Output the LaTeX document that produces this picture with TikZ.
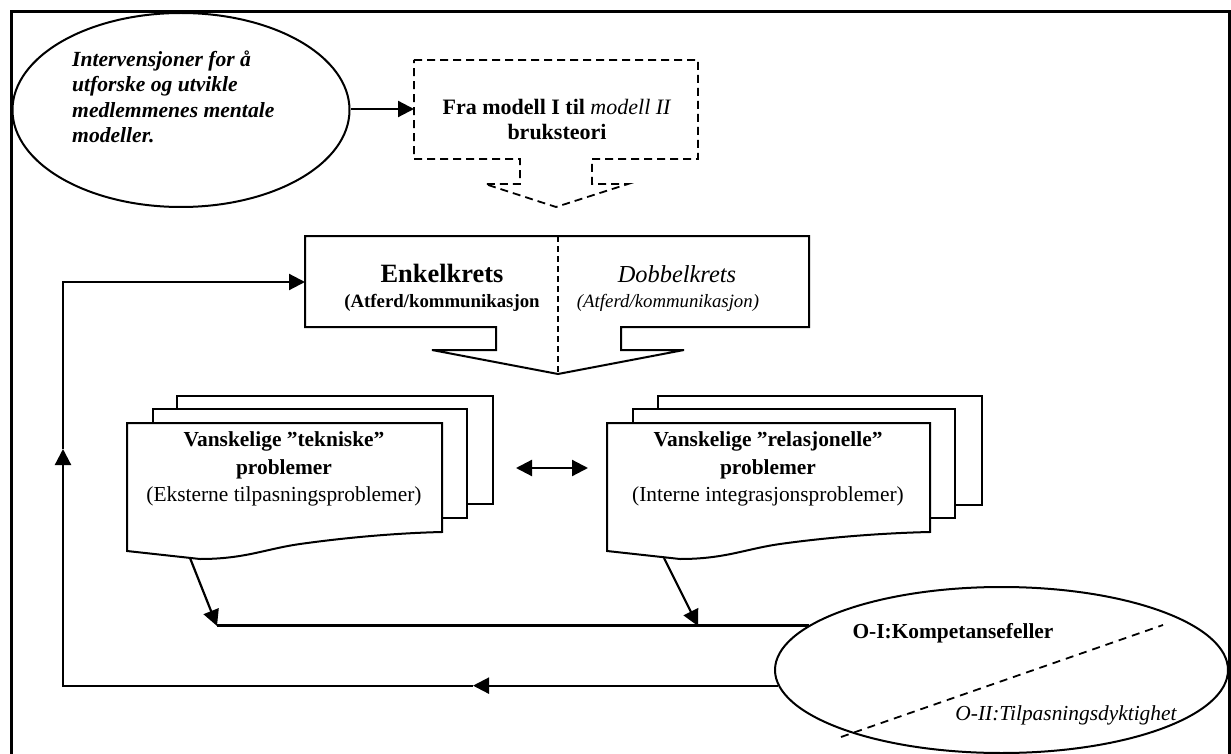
\documentclass[tikz,border=0pt]{standalone}
\usepackage{fontspec}
\setmainfont{Liberation Serif}
\usetikzlibrary{shapes.geometric,arrows.meta}
\newcommand{\myfs}[2]{\fontsize{#1pt}{#2pt}\selectfont}
\begin{document}
\begin{tikzpicture}[x=1pt,y=-1pt,
  >={Triangle[length=16pt,width=16pt]},
  ln/.style={line width=2.2pt},
  arr/.style={line width=2.2pt,->},
  dbl/.style={line width=2.2pt,<->},
  page/.style={line width=2pt,fill=white},
  dashbox/.style={line width=1.8pt,dash pattern=on 8pt off 5pt},
  divider/.style={line width=1.6pt,dash pattern=on 6pt off 4pt},
  oval/.style={ellipse,draw,line width=2pt,inner sep=0pt},
  lbl/.style={inner sep=0pt,align=center}
]
\useasboundingbox (0,0) rectangle (1231,754);
\fill[white] (0,0) rectangle (1231,754);
% frame
\draw[line width=3pt] (11,780) -- (11,12) -- (1229,12) -- (1229,780);

% top-left ellipse
\node[oval,minimum width=337pt,minimum height=194pt] (ell1) at (181,110) {};
\node[lbl,align=left,anchor=west,font={\myfs{21.6}{25.5}\bfseries\itshape}] (ell1t) at (72,97)
  {Intervensjoner for å\\utforske og utvikle\\medlemmenes mentale\\modeller.};

% dashed callout
\draw[dashbox] (414,60) -- (698,60) -- (698,159) -- (592,159) -- (592,184) -- (628,184)
  -- (556,207) -- (485,184) -- (520,184) -- (520,159) -- (414,159) -- cycle;
\coordinate (fraW) at (414,109);
\node[lbl,font={\myfs{22}{25}}] (fra) at (557,120)
  {\textbf{Fra modell I til} \textit{modell II}\\\textbf{bruksteori}};
\draw[arr] (ell1.east |- fraW) -- (fraW);

% Enkelkrets / Dobbelkrets callout
\draw[page] (305,236) -- (809,236) -- (809,327) -- (621,327) -- (621,350) -- (684,350)
  -- (558,374) -- (432,350) -- (496,350) -- (496,327) -- (305,327) -- cycle;
\draw[divider] (558,236) -- (558,374);
\coordinate (enkW) at (305,282);
\node[inner sep=0pt,anchor=base,font={\myfs{26.4}{30}\bfseries}] (enk) at (442,282) {Enkelkrets};
\node[inner sep=0pt,anchor=base,font={\myfs{18.8}{22}\bfseries}] (enks) at (442,307) {(Atferd/kommunikasjon};
\node[inner sep=0pt,anchor=base,font={\myfs{24.4}{28}\itshape}] (dob) at (677,282) {Dobbelkrets};
\node[inner sep=0pt,anchor=base,font={\myfs{18.8}{22}\itshape}] (dobs) at (668,307) {(Atferd/kommunikasjon)};

% left stack
\draw[page] (177,396) rectangle (493,504);
\draw[page] (153,409) rectangle (467,518);
\draw[page] (127,423) -- (442,423) -- (442,532) .. controls (400,533) and (350,537) .. (300,544)
  .. controls (265,549) and (245,559) .. (200,559) -- (127,551) -- cycle;
\node[lbl,font={\myfs{21.4}{27.5}}] (tech) at (284,469)
  {\textbf{Vanskelige ”tekniske”}\\\textbf{problemer}\\(Eksterne tilpasningsproblemer)};

% right stack
\draw[page] (658,396) rectangle (982,505);
\draw[page] (633,409) rectangle (955,518);
\draw[page] (607,423) -- (930,423) -- (930,532) .. controls (885,533) and (830,537) .. (780,544)
  .. controls (745,549) and (725,559) .. (680,559) -- (607,551) -- cycle;
\node[lbl,font={\myfs{21.4}{27.5}}] (rel) at (768,469)
  {\textbf{Vanskelige ”relasjonelle”}\\\textbf{problemer}\\(Interne integrasjonsproblemer)};

% double arrow
\coordinate (dl) at (516,468);
\coordinate (dr) at (588,468);
\draw[dbl] (dl) -- (dr);

% bottom-right ellipse
\node[oval,minimum width=453pt,minimum height=166pt] (ell2) at (1001.5,670) {};
\draw[dashbox,dash pattern=on 8pt off 6pt] (841,737) -- (1163,625);
\node[inner sep=0pt,anchor=base,font={\myfs{21.4}{25}\bfseries}] (o1) at (953,638) {O-I:Kompetansefeller};
\node[inner sep=0pt,anchor=base,font={\myfs{21.4}{25}\itshape}] (o2) at (1066,720) {O-II:Tilpasningsdyktighet};

% connectors from problem pages to collecting line
\coordinate (techB) at (190,558);
\coordinate (relB) at (664,558);
\coordinate (la) at (217,626);
\coordinate (ra) at (698,626);
\draw[ln] (ell2.167) -- (la |- ell2.167);
\draw[arr] (techB) -- (la);
\draw[arr] (relB) -- (ra);

% feedback loop
\coordinate (mA) at (473,687);
\coordinate (rb) at (63,687);
\coordinate (mB) at (63,449);
\coordinate (rt) at (63,282);
\draw[arr] (ell2.184) -- (mA |- ell2.184);
\draw[arr] (mA |- ell2.184) -- (rb |- ell2.184) -- (mB);
\draw[arr] (mB) -- (rt) -- (enkW);
\end{tikzpicture}
\end{document}
